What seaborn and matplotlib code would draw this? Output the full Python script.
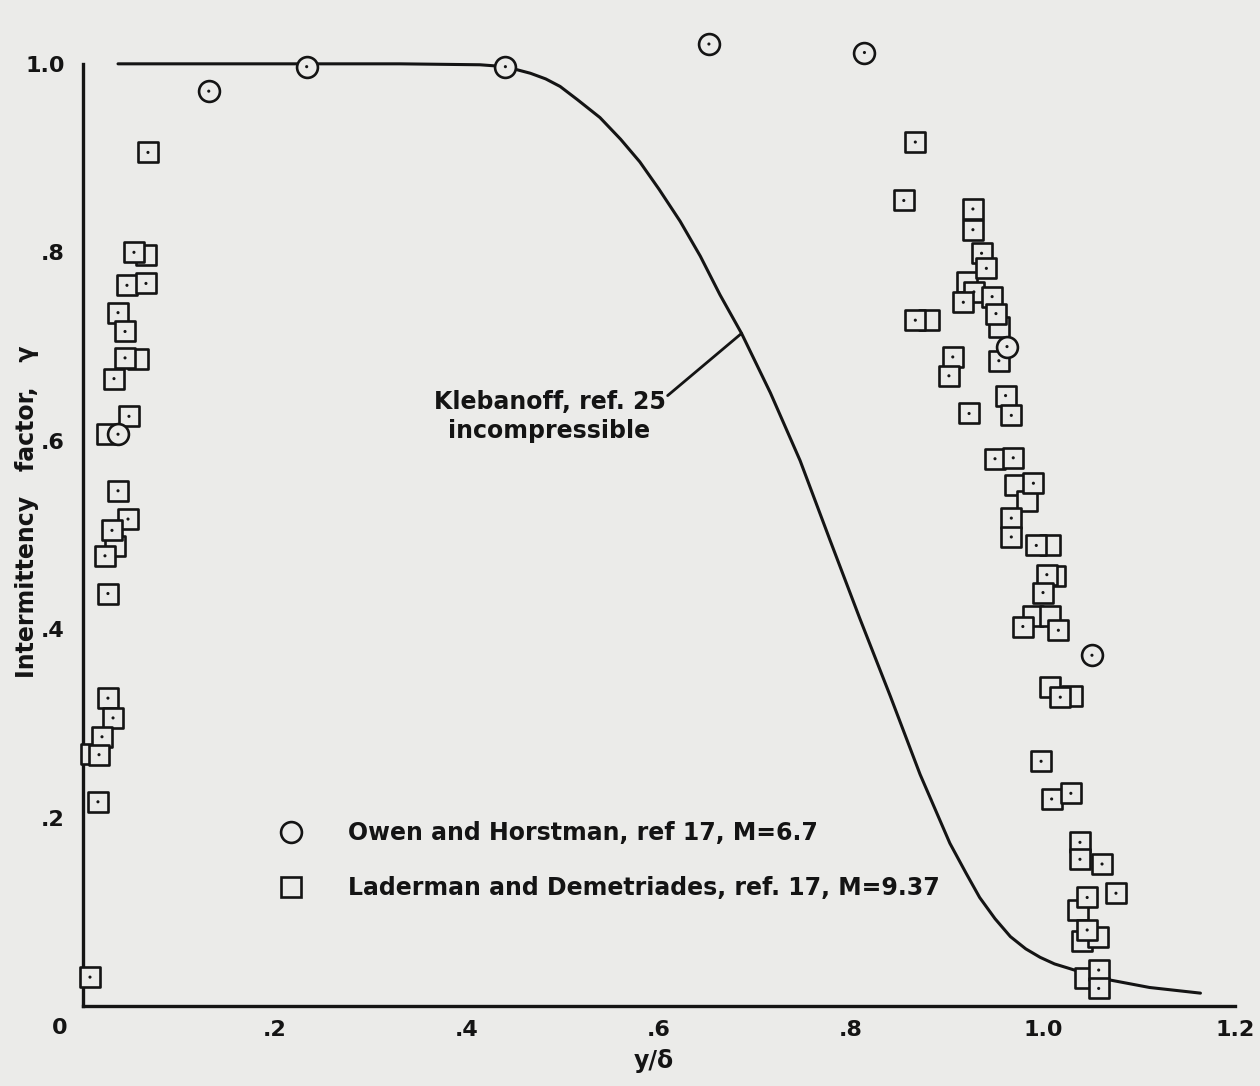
import numpy as np
import pandas as pd
import matplotlib
matplotlib.use("Agg")
import matplotlib.pyplot as plt
from matplotlib.lines import Line2D
import seaborn as sns

# ---------------- data ----------------
# Klebanoff, ref. 25, incompressible (solid curve)
kleb_x = [0.0365, 0.330, 0.4135, 0.440, 0.466, 0.482, 0.497, 0.515, 0.5385, 0.560,
          0.580, 0.600, 0.622, 0.643, 0.6635, 0.686, 0.716, 0.747, 0.778, 0.809,
          0.841, 0.872, 0.903, 0.920, 0.934, 0.950, 0.966, 0.982, 0.997, 1.012,
          1.028, 1.059, 1.085, 1.111, 1.164]
kleb_y = [1.000, 1.000, 0.999, 0.997, 0.990, 0.984, 0.976, 0.962, 0.943, 0.920,
          0.896, 0.867, 0.833, 0.796, 0.755, 0.714, 0.651, 0.579, 0.495, 0.412,
          0.329, 0.246, 0.173, 0.141, 0.1155, 0.093, 0.074, 0.061, 0.052, 0.045,
          0.040, 0.030, 0.025, 0.020, 0.014]

# Owen and Horstman, ref 17, M=6.7 (circles)
owen_x = [0.131, 0.233, 0.440, 0.652, 0.814, 0.9625, 0.0365, 1.051]
owen_y = [0.971, 0.997, 0.997, 1.021, 1.012, 0.700, 0.607, 0.3725]

# Laderman and Demetriades, ref. 17, M=9.37 (squares, fully visible)
lad_x = [0.0677, 0.0531, 0.0458, 0.0656, 0.0365, 0.0438, 0.0438, 0.0323, 0.0479,
         0.0365, 0.0469, 0.0302, 0.0229, 0.0260, 0.0260, 0.0313, 0.0198, 0.0167,
         0.0156, 0.0073,
         0.867, 0.855, 0.927, 0.927, 0.936, 0.941, 0.928, 0.917, 0.947, 0.951,
         0.954, 0.867, 0.906, 0.902, 0.961, 0.923, 0.967,
         0.950, 0.969, 0.990, 0.967, 0.967, 0.993, 1.004, 1.000, 0.979, 1.016,
         1.018, 0.998, 1.009, 1.029, 1.0385, 1.0385, 1.0615, 1.076, 1.046, 1.046,
         1.058, 1.058]
lad_y = [0.906, 0.800, 0.765, 0.767, 0.736, 0.716, 0.688, 0.666, 0.626,
         0.547, 0.517, 0.505, 0.478, 0.438, 0.327, 0.306, 0.286, 0.267,
         0.217, 0.031,
         0.917, 0.855, 0.846, 0.824, 0.799, 0.783, 0.758, 0.747, 0.753, 0.735,
         0.685, 0.728, 0.689, 0.669, 0.648, 0.629, 0.627,
         0.581, 0.582, 0.555, 0.518, 0.498, 0.489, 0.458, 0.439, 0.403, 0.399,
         0.328, 0.260, 0.220, 0.226, 0.174, 0.156, 0.151, 0.120, 0.1155, 0.081,
         0.0385, 0.019]

# Laderman and Demetriades squares partly hidden behind others
lad_back_x = [0.0656, 0.0573, 0.0250, 0.0333, 0.0083,
              0.921, 0.954, 0.881, 0.971, 0.9833, 1.007, 1.0125, 0.990, 1.007,
              1.007, 1.030, 1.0365, 1.041, 1.057, 1.044]
lad_back_y = [0.797, 0.687, 0.607, 0.488, 0.268,
              0.768, 0.721, 0.728, 0.553, 0.536, 0.489, 0.457, 0.414, 0.414,
              0.339, 0.329, 0.102, 0.069, 0.074, 0.030]

x_ticks = [0.2, 0.4, 0.6, 0.8, 1.0, 1.2]
x_tick_labels = [".2", ".4", ".6", ".8", "1.0", "1.2"]
y_ticks = [0.2, 0.4, 0.6, 0.8, 1.0]
y_tick_labels = [".2", ".4", ".6", ".8", "1.0"]

label_owen = "Owen and Horstman, ref 17, M=6.7"
label_lad = "Laderman and Demetriades, ref. 17, M=9.37"
label_kleb = "Klebanoff, ref. 25\nincompressible"

# ---------------- style ----------------
BG = "#ebebe9"
INK = "#141414"
sns.set_style("white")
plt.rcParams["font.family"] = ["DejaVu Sans"]
plt.rcParams["font.weight"] = "bold"

fig = plt.figure(figsize=(12.6, 10.86), dpi=100, facecolor=BG)
ax = fig.add_axes([0.043, 0.056, 0.9524, 0.9373])
ax.set_facecolor(BG)

sns.lineplot(x=kleb_x, y=kleb_y, color=INK, linewidth=2.2, sort=False,
             estimator=None, ax=ax, zorder=2)

sns.scatterplot(x=lad_back_x, y=lad_back_y, marker="s", s=196, facecolor=BG,
                edgecolor=INK, linewidth=1.9, ax=ax, zorder=3)
sns.scatterplot(x=lad_x, y=lad_y, marker="s", s=196, facecolor=BG,
                edgecolor=INK, linewidth=1.9, ax=ax, zorder=4)
sns.scatterplot(x=owen_x, y=owen_y, marker="o", s=225, facecolor=BG,
                edgecolor=INK, linewidth=1.9, ax=ax, zorder=4)
# center dots
sns.scatterplot(x=lad_x + owen_x, y=lad_y + owen_y, marker="o", s=5,
                color=INK, edgecolor="none", linewidth=0, ax=ax, zorder=5)

ax.set_xlim(-0.03, 1.22)
ax.set_ylim(-0.02, 1.06)

for side in ["top", "right"]:
    ax.spines[side].set_visible(False)
ax.spines["left"].set_position(("data", 0))
ax.spines["bottom"].set_position(("data", 0))
ax.spines["left"].set_bounds(0, 1.0)
ax.spines["bottom"].set_bounds(0, 1.2)
for side in ["left", "bottom"]:
    ax.spines[side].set_linewidth(2.4)
    ax.spines[side].set_color(INK)

ax.set_xticks(x_ticks)
ax.set_xticklabels(x_tick_labels)
ax.set_yticks(y_ticks)
ax.set_yticklabels(y_tick_labels)
ax.tick_params(axis="both", direction="in", length=13, width=1.9, color=INK,
               labelsize=16, labelcolor=INK)
ax.tick_params(axis="x", pad=10)
ax.tick_params(axis="y", pad=13)
for lab in ax.get_xticklabels() + ax.get_yticklabels():
    lab.set_fontweight("bold")
ax.text(-0.024, -0.023, "0", ha="center", va="center", fontsize=16,
        fontweight="bold", color=INK)

ax.set_xlabel("y/δ", fontsize=17, fontweight="bold", color=INK, labelpad=6)
ax.set_ylabel("Intermittency   factor,   γ", fontsize=17, fontweight="bold",
              color=INK)
ax.yaxis.set_label_coords(-0.0125, 0.504)

ax.text(0.486, 0.626, label_kleb, ha="center", va="center", fontsize=17,
        fontweight="bold", color=INK, linespacing=1.25, multialignment="center")
ax.annotate("", xy=(0.686, 0.714), xytext=(0.609, 0.648),
            arrowprops=dict(arrowstyle="-", lw=2.0, color=INK, shrinkA=0, shrinkB=0))

handles = [
    Line2D([], [], marker="o", ls="none", ms=15, mfc="none", mec=INK, mew=1.9),
    Line2D([], [], marker="s", ls="none", ms=14, mfc="none", mec=INK, mew=1.9),
]
leg = ax.legend(handles, [label_owen, label_lad], loc="center left",
                bbox_to_anchor=(279.6 / 1260, 1 - 860.5 / 1086),
                bbox_transform=fig.transFigure, frameon=False, fontsize=17,
                handlelength=1.0, handletextpad=1.9, borderpad=0,
                labelspacing=1.3, borderaxespad=0)
for t in leg.get_texts():
    t.set_fontweight("bold")
    t.set_color(INK)

fig.savefig("out.png", dpi=100, facecolor=BG)
